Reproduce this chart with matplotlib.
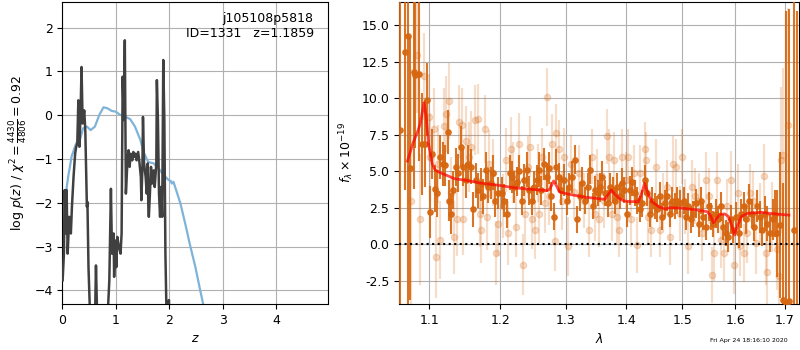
import matplotlib
matplotlib.use("Agg")
import matplotlib.pyplot as plt

# ---- left panel: redshift PDF ----
z_pdf = [0.0, 0.05, 0.11, 0.175, 0.26, 0.33, 0.39, 0.46, 0.53, 0.61, 0.69, 0.77,
         0.84, 0.92, 1.0, 1.08, 1.17, 1.27, 1.36, 1.46, 1.53, 1.61, 1.71, 1.80,
         1.89, 1.99, 2.03, 2.05, 2.08, 2.11, 2.21, 2.30, 2.39, 2.49, 2.58, 2.64]
logp_pdf = [-2.7, -1.93, -1.4, -0.94, -0.64, -0.56, -0.30, -0.26, -0.34, -0.26,
            0.0, 0.18, 0.16, 0.10, 0.08, 0.01, -0.03, -0.09, -0.26, -0.56, -0.87,
            -1.07, -1.10, -1.21, -1.36, -1.48, -1.50, -1.56, -1.52, -1.63, -2.01,
            -2.47, -2.96, -3.46, -3.99, -4.33]

z_chi2 = [0.006, 0.03, 0.044, 0.07, 0.08, 0.10, 0.13, 0.16, 0.18, 0.21, 0.24,
          0.26, 0.28, 0.30, 0.32, 0.34, 0.36, 0.38, 0.41, 0.43, 0.46, 0.47, 0.49,
          0.52, 0.57, 0.61, 0.63, 0.66, 0.75, 0.84, 0.88, 0.91, 0.93, 0.96, 0.97,
          0.99, 1.01, 1.03, 1.06, 1.09, 1.11, 1.13, 1.15, 1.17, 1.19, 1.22, 1.24,
          1.26, 1.28, 1.31, 1.33, 1.35, 1.37, 1.39, 1.42, 1.44, 1.47, 1.48, 1.50,
          1.51, 1.53, 1.56, 1.58, 1.60, 1.61, 1.62, 1.64, 1.66, 1.68, 1.71, 1.73,
          1.76, 1.77, 1.79, 1.81, 1.83, 1.85, 1.87, 1.89, 1.91, 1.92, 1.93, 1.95,
          1.98, 1.995, 2.01, 2.1]
logp_chi2 = [-3.77, -3.16, -1.71, -2.70, -1.71, -3.16, -2.32, -2.70, -2.09, -1.41,
             -0.88, -0.72, -0.65, 0.34, -0.72, -0.04, 1.10, -0.19, 0.11, -0.34,
             -2.09, -1.98, -3.47, -4.6, -5.3, -4.8, -3.43, -5.0, -6.0, -4.8, -3.77,
             -1.68, -3.16, -2.70, -3.69, -2.86, -3.47, -2.78, -3.01, -3.16, -2.70,
             0.88, -0.11, 1.71, -1.79, -1.03, -0.80, -1.18, -0.88, -1.03, -0.84,
             -0.95, -0.88, -1.03, -0.84, -1.03, -1.41, -1.94, -1.18, -0.04, -1.10,
             -1.41, -1.79, -1.10, -2.09, -2.32, -1.79, -1.18, -1.56, -1.26, -1.64,
             -1.10, 0.80, -0.11, -1.79, -2.32, -1.64, -2.32, 1.26, -0.11, -1.64,
             -3.16, -4.5, -4.5, -4.22, -4.6, -8.0]

# ---- right panel: spectrum ----
model_wave = [1.071, 1.078, 1.085, 1.088, 1.093, 1.096, 1.099, 1.104, 1.108, 1.115,
              1.125, 1.134, 1.148, 1.171, 1.195, 1.220, 1.245, 1.270, 1.275, 1.281,
              1.285, 1.290, 1.298, 1.311, 1.333, 1.349, 1.364, 1.369, 1.375, 1.381,
              1.389, 1.397, 1.408, 1.421, 1.427, 1.432, 1.439, 1.445, 1.457, 1.468,
              1.477, 1.500, 1.527, 1.546, 1.552, 1.558, 1.564, 1.571, 1.580, 1.587,
              1.594, 1.599, 1.605, 1.612, 1.624, 1.652, 1.680, 1.709]
model_flux = [5.7, 6.9, 7.8, 8.3, 9.7, 8.7, 6.9, 5.5, 5.1, 4.9, 4.7, 4.5, 4.4, 4.2,
              4.06, 3.88, 3.77, 3.68, 3.77, 4.34, 4.06, 3.6, 3.5, 3.38, 3.22, 3.15,
              3.08, 3.38, 3.72, 3.42, 3.1, 2.97, 2.92, 2.92, 3.49, 4.18, 3.38, 2.92,
              2.58, 2.42, 2.51, 2.47, 2.35, 2.24, 2.0, 1.48, 1.78, 2.05, 2.08, 1.9,
              1.21, 0.64, 1.32, 1.9, 2.12, 2.19, 2.08, 2.0]

dark_wave = [1.061, 1.068, 1.072, 1.0745, 1.079, 1.081, 1.086, 1.090, 1.094, 1.097,
             1.101, 1.104, 1.108, 1.110, 1.114, 1.118, 1.121, 1.125, 1.127, 1.130,
             1.133, 1.136, 1.140, 1.143, 1.147, 1.150, 1.154, 1.157, 1.161, 1.165,
             1.168, 1.172, 1.175, 1.179, 1.182, 1.186, 1.189, 1.192, 1.196,
             1.202, 1.206, 1.210, 1.214, 1.217, 1.221, 1.225, 1.228, 1.232, 1.236,
             1.240, 1.243, 1.247, 1.251, 1.255, 1.258, 1.262, 1.266, 1.270, 1.273,
             1.277, 1.281, 1.285, 1.289, 1.293, 1.297,
             1.302, 1.306, 1.310, 1.315, 1.319, 1.323, 1.327, 1.331, 1.336, 1.340,
             1.344, 1.348, 1.352, 1.356, 1.360, 1.365, 1.369, 1.373, 1.377, 1.381,
             1.385, 1.389, 1.393, 1.397,
             1.402, 1.406, 1.410, 1.415, 1.419, 1.424, 1.428, 1.432, 1.436, 1.441,
             1.445, 1.450, 1.454, 1.459, 1.463, 1.468, 1.472, 1.477, 1.481, 1.486,
             1.490, 1.495,
             1.502, 1.506, 1.511, 1.515, 1.520, 1.525, 1.530, 1.534, 1.539, 1.544,
             1.549, 1.553, 1.558, 1.563, 1.567, 1.572, 1.577, 1.582, 1.587, 1.591,
             1.596,
             1.602, 1.607, 1.612, 1.617, 1.622, 1.628, 1.633, 1.638, 1.643, 1.649,
             1.654, 1.659, 1.664, 1.670, 1.675, 1.680, 1.685, 1.691, 1.697, 1.703,
             1.709, 1.720, 1.727]
dark_flux = [7.8, 13.2, 14.3, 5.2, 11.8, 11.6, 11.7, 6.9, 6.9, 9.9,
             2.2, 6.2, 3.8, 3.5, 6.0, 5.5, 5.4, 7.7, 3.0, 2.1,
             3.7, 5.3, 4.9, 6.7, 5.3, 4.4, 5.5, 5.3, 2.4, 4.4,
             3.7, 4.1, 3.3, 5.1, 3.9, 4.2, 4.9, 3.0, 3.5,
             3.5, 3.0, 2.1, 4.9, 4.6, 3.9, 4.3, 5.0, 3.0, 4.4,
             5.1, 3.7, 3.0, 3.9, 4.4, 5.1, 3.7, 5.5, 4.6, 5.2,
             3.3, 1.9, 5.3, 4.6, 3.7, 4.4,
             3.0, 3.9, 4.6, 5.8, 1.7, 3.3, 4.2, 3.0, 3.9, 5.1,
             2.6, 3.7, 3.5, 3.9, 4.6, 3.5, 2.8, 3.9, 3.7, 3.0,
             3.9, 3.3, 4.2, 3.7,
             2.1, 3.7, 4.3, 3.5, 3.0, 2.4, 2.8, 4.4, 3.5, 2.1,
             3.0, 2.6, 2.4, 3.3, 1.9, 2.8, 3.3, 2.1, 3.0, 2.6,
             3.0, 2.8,
             3.0, 1.9, 2.6, 1.7, 2.1, 2.8, 1.4, 3.0, 1.9, 1.2,
             2.6, 1.9, 1.4, 2.1, 1.7, 2.6, 1.2, 0.75, 0.5, 1.7,
             1.0,
             1.9, 0.75, 2.1, 2.6, 1.7, 3.0, 2.1, 1.2, 2.6, 1.9,
             1.0, 2.1, 1.4, 0.75, 1.7, 2.1, 0.75, 1.3, -3.8, -4.0,
             -3.9, 1.0, -6.0]
dark_err = [14.0, 9.5, 20.0, 9.0, 8.0, 5.0, 6.0, 3.5, 3.0, 2.5,
            1.8, 1.7, 1.6, 1.6, 1.5, 1.5, 1.4, 1.5, 1.4, 1.4,
            1.3, 1.3, 1.3, 1.4, 1.3, 1.2, 1.3, 1.2, 1.2, 1.2,
            1.2, 1.1, 1.2, 1.2, 1.1, 1.1, 1.2, 1.1, 1.1,
            1.1, 1.1, 1.0, 1.2, 1.1, 1.1, 1.0, 1.1, 1.0, 1.1,
            1.2, 1.0, 1.0, 1.1, 1.0, 1.2, 1.0, 1.1, 1.0, 1.1,
            1.0, 0.9, 1.2, 1.0, 1.0, 1.1,
            1.0, 1.0, 1.1, 1.0, 0.9, 1.0, 1.1, 0.9, 1.0, 1.0,
            0.9, 1.0, 0.9, 1.0, 1.1, 0.9, 0.9, 1.0, 0.9, 0.9,
            1.0, 0.9, 1.0, 0.9,
            0.9, 1.0, 1.0, 0.9, 0.9, 0.9, 0.9, 1.0, 0.9, 0.9,
            0.9, 0.9, 0.9, 1.0, 0.9, 0.9, 1.0, 0.9, 0.9, 0.9,
            0.9, 0.9,
            0.9, 0.9, 0.9, 0.9, 0.9, 1.0, 0.9, 0.9, 0.9, 0.9,
            1.0, 0.9, 0.9, 1.0, 0.9, 1.0, 0.9, 0.9, 1.0, 1.0,
            0.9,
            1.0, 1.0, 1.0, 1.0, 1.0, 1.1, 1.0, 1.0, 1.1, 1.1,
            1.1, 1.2, 1.2, 1.3, 1.4, 1.6, 3.0, 5.0, 8.0, 20.0,
            20.0, 16.0, 22.0]

light_wave = [1.075, 1.084, 1.088, 1.093, 1.099,
              1.101, 1.106, 1.109, 1.112, 1.115, 1.120, 1.123, 1.127, 1.130, 1.134,
              1.138, 1.141, 1.145, 1.147, 1.150, 1.155, 1.158, 1.163, 1.167, 1.170,
              1.172, 1.177, 1.181, 1.184, 1.190, 1.194, 1.197,
              1.204, 1.209, 1.212, 1.216, 1.219, 1.224, 1.228, 1.234, 1.237, 1.241,
              1.245, 1.248, 1.252, 1.256, 1.259, 1.263, 1.267, 1.270, 1.274, 1.278,
              1.283, 1.285, 1.290, 1.294, 1.298,
              1.303, 1.309, 1.314, 1.322, 1.329, 1.337, 1.343, 1.347, 1.351, 1.355,
              1.362, 1.367, 1.371, 1.376, 1.380, 1.384, 1.388, 1.393, 1.399,
              1.403, 1.409, 1.413, 1.418, 1.424, 1.432, 1.434, 1.438, 1.444, 1.453,
              1.459, 1.465, 1.471, 1.477, 1.483, 1.489, 1.495, 1.499,
              1.504, 1.511, 1.517, 1.524, 1.530, 1.536, 1.543, 1.549, 1.556, 1.559,
              1.565, 1.572, 1.578, 1.584, 1.591, 1.598,
              1.605, 1.610, 1.617, 1.623, 1.630, 1.635, 1.642, 1.649, 1.657, 1.662,
              1.664, 1.673, 1.685, 1.688, 1.693, 1.697, 1.708]
light_flux = [3.0, 13.0, 1.7, 11.5, 8.7,
              6.0, 7.9, -0.85, 5.5, 0.3, 8.1, 8.9, 9.8, 3.5, 0.5,
              1.7, 8.4, 8.2, 1.7, 7.1, 6.0, 6.7, 8.5, 8.6, 2.1,
              1.0, 7.9, 1.9, 5.5, 4.9, -0.6, 1.4,
              2.6, 5.8, 0.75, 6.5, 4.9, 1.2, 6.9, -1.4, 2.1, 5.3,
              6.7, 1.7, 1.0, 4.9, 2.1, 6.0, 2.8, 10.1, 3.3, 6.9,
              0.2, 7.6, 6.5, 3.0, 6.0,
              -0.15, 5.5, 3.6, 4.9, 3.0, 1.0, 6.0, 2.1, 4.6, 1.7,
              3.0, 7.4, 6.0, 2.1, 5.8, 1.9, 1.0, 6.0, 4.4,
              6.0, 1.7, 4.9, -0.05, 4.9, 6.5, 5.8, 1.9, 1.0, 5.3,
              1.0, 3.0, 3.9, 0.5, 5.5, 5.3, 2.1, 6.0,
              2.6, -0.15, 3.9, 3.3, 3.0, 0.75, 4.4, 3.3, -2.1, -0.6,
              4.4, 0.3, -0.6, 2.6, 4.4, -1.4,
              3.5, -0.15, -0.6, 0.75, 3.5, 3.0, 0.1, 2.1, 4.7, -0.6,
              -1.9, 1.9, -0.3, -2.2, 5.8, 6.1, 8.2]
light_err = [9.0, 4.0, 4.5, 3.0, 3.0,
             3.0, 2.8, 2.8, 2.7, 2.7, 2.6, 2.6, 2.6, 2.5, 2.5,
             2.5, 2.5, 2.5, 2.4, 2.4, 2.4, 2.4, 2.4, 2.4, 2.3,
             2.3, 2.3, 2.3, 2.3, 2.3, 2.2, 2.2,
             2.2, 2.2, 2.2, 2.2, 2.1, 2.1, 2.1, 2.1, 2.1, 2.1,
             2.1, 2.0, 2.0, 2.0, 2.0, 2.0, 2.0, 2.0, 2.0, 2.0,
             2.0, 2.0, 2.0, 2.0, 2.0,
             2.0, 2.0, 1.9, 1.9, 1.9, 1.9, 1.9, 1.9, 1.9, 1.9,
             1.9, 1.9, 1.9, 1.9, 1.9, 1.9, 1.9, 1.9, 1.9,
             1.9, 1.9, 1.9, 1.9, 1.9, 1.9, 1.9, 1.9, 1.9, 1.9,
             1.9, 1.9, 1.9, 1.9, 1.9, 1.9, 1.9, 1.9,
             1.9, 1.9, 1.9, 1.9, 1.9, 1.9, 1.9, 1.9, 1.9, 1.9,
             1.9, 1.9, 1.9, 1.9, 2.0, 2.0,
             2.0, 2.0, 2.0, 2.0, 2.0, 2.0, 2.1, 2.1, 2.2, 2.2,
             2.2, 2.4, 2.8, 3.5, 5.0, 6.0, 8.0]

wave_ticks = [1.1, 1.2, 1.3, 1.4, 1.5, 1.6, 1.7]
flux_ticks = [-2.5, 0.0, 2.5, 5.0, 7.5, 10.0, 12.5, 15.0]

plt.rcParams["font.size"] = 9
fig = plt.figure(figsize=(8, 3.5), dpi=100)

# p(z)
ax = fig.add_axes([0.0779, 0.1314, 0.3325, 0.8637])
ax.plot(z_chi2, logp_chi2, color="0.25", lw=1.8, zorder=3)
ax.plot(z_pdf, logp_pdf, color="#7fb3d9", lw=1.6, zorder=2)
ax.set_xlim(0, 4.98)
ax.set_ylim(-4.31, 2.59)
ax.set_xticks([0, 1, 2, 3, 4])
ax.set_yticks([-4, -3, -2, -1, 0, 1, 2])
ax.grid(True, color="#b0b0b0", lw=0.8)
ax.set_axisbelow(True)
ax.set_xlabel(r"$z$")
ax.set_ylabel(r"log $p(z)$ / $\chi^2=\frac{4430}{4806}=0.92$")
ax.text(0.945, 0.965, "j105108p5818\nID=1331   z=1.1859", transform=ax.transAxes,
        ha="right", va="top")

# spectrum
ax2 = fig.add_axes([0.4988, 0.1314, 0.5004, 0.8637])
orange = (0.84, 0.40, 0.06)
ax2.errorbar(light_wave, light_flux, yerr=light_err, fmt="o", color=orange,
             alpha=0.22, ms=4.5, lw=1.6, zorder=2)
ax2.errorbar(dark_wave, dark_flux, yerr=dark_err, fmt="o", color=orange,
             alpha=0.9, ms=3.8, lw=1.5, zorder=3)
ax2.plot(model_wave, model_flux, color="red", alpha=0.7, lw=2, zorder=4)
ax2.axhline(0, color="k", ls=":", lw=1.5, zorder=5)
ax2.set_xscale("log")
ax2.set_xlim(1.06, 1.731)
ax2.set_ylim(-4.09, 16.62)
ax2.set_xticks(wave_ticks)
ax2.set_xticklabels([f"{w:.1f}" for w in wave_ticks])
ax2.xaxis.set_minor_locator(matplotlib.ticker.NullLocator())
ax2.set_yticks(flux_ticks)
ax2.set_yticklabels([f"{f:.1f}" for f in flux_ticks])
ax2.grid(True, color="#b0b0b0", lw=0.8)
ax2.set_axisbelow(True)
ax2.set_xlabel(r"$\lambda$")
ax2.set_ylabel(r"$f_\lambda\times10^{-19}$")

fig.text(0.984, 0.028, "Fri Apr 24 18:16:10 2020", ha="right", va="center",
         fontsize=4.5)

fig.savefig("out.png", dpi=100)
